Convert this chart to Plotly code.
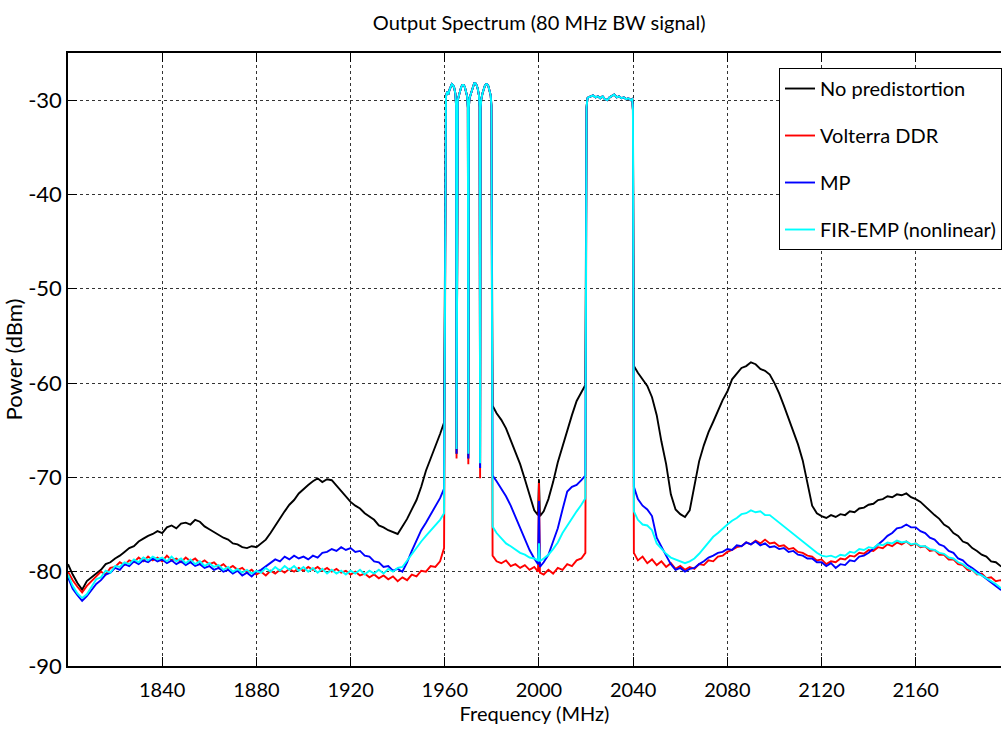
import plotly.graph_objects as go

# ---------------- frequency sampling (MHz) ----------------
low_f = [1800 + 2 * i for i in range(80)] + [1959.7]
mid_f = [1980.3] + [1982 + 2 * i for i in range(9)] + [1999.6, 2000.0, 2000.4] + [2002 + 2 * i for i in range(9)] + [2019.7]
up_f = [2040.3] + [2042 + 2 * i for i in range(79)]

carrier_starts = [1960, 1965, 1970, 1975]
carrier_offsets = [0.2, 0.5, 1.0, 1.5, 2.0, 2.5, 3.0, 3.5, 4.0, 4.5, 4.8]
c2_f = [2020.2, 2020.6] + [2021 + i for i in range(19)] + [2039.6, 2039.9]

x_ticks = [1840, 1880, 1920, 1960, 2000, 2040, 2080, 2120, 2160]
y_ticks = [-90, -80, -70, -60, -50, -40, -30]
y_tick_text = ["-90", "-80", "-70", "-60", "-50", "-40", "-30"]

# ---------------- in-band (shared) levels, dBm ----------------
carrier1 = [-30.6, -29.6, -29.1, -29.4, -28.9, -28.5, -28.3, -28.4, -28.7, -29.3, -30.6]
carrier2 = [-31.0, -30.0, -29.5, -29.0, -28.6, -28.4, -28.4, -28.6, -29.0, -29.6, -30.8]
carrier3 = [-30.8, -29.8, -29.4, -28.9, -28.5, -28.2, -28.2, -28.4, -28.8, -29.5, -30.7]
carrier4 = [-30.9, -29.9, -29.3, -28.8, -28.5, -28.3, -28.3, -28.5, -28.9, -29.5, -30.6]
block2_db = [-30.8, -29.8, -29.7, -29.6, -29.5, -29.7, -29.6, -29.8, -29.6, -29.9, -30.0, -29.7,
             -29.5, -29.4, -29.7, -29.6, -29.8, -29.7, -29.9, -29.8, -30.0, -29.9, -31.0]

# ---------------- No predistortion ----------------
black_low = [-79.2, -80.3, -81.2, -81.9, -81.0, -80.6, -80.1, -79.8, -79.2, -79.0, -78.6, -78.3, -77.9, -77.5,
             -77.3, -76.8, -76.5, -76.2, -76.0, -75.7, -75.9, -75.3, -75.1, -75.4, -74.9, -74.8, -75.0, -74.5,
             -74.7, -75.2, -75.5, -75.8, -76.1, -76.4, -76.6, -77.0, -77.1, -77.4, -77.5, -77.3, -77.4, -77.0,
             -76.6, -75.9, -75.1, -74.4, -73.6, -72.9, -72.4, -71.7, -71.2, -70.8, -70.4, -70.1, -70.5, -70.2,
             -70.3, -70.9, -71.4, -72.1, -72.6, -73.0, -73.3, -73.8, -74.2, -74.5, -75.1, -75.3, -75.6, -75.8,
             -76.0, -75.2, -74.4, -73.4, -72.4, -71.0, -69.3, -68.0, -66.8, -65.4, -64.2]
black_dips = [-67.5, -68.0, -69.0]
black_mid = [-62.4, -63.2, -63.9, -64.8, -66.0, -67.3, -68.6, -70.2, -71.9, -73.5, -74.0, -70.2, -74.1,
             -73.6, -72.3, -70.5, -68.4, -66.7, -64.9, -63.4, -61.9, -60.9, -60.2]
black_up = [-58.2, -58.9, -59.6, -60.3, -61.5, -63.4, -66.2, -68.6, -71.8, -73.4, -73.9, -74.2, -73.5, -70.9,
            -68.3, -66.6, -65.2, -64.1, -63.0, -61.8, -60.9, -59.6, -59.0, -58.4, -58.2, -57.8, -58.0, -58.5,
            -58.7, -59.1, -60.0, -61.1, -62.4, -63.7, -65.1, -66.5, -68.2, -70.6, -73.0, -73.8, -74.1, -74.3,
            -74.0, -74.2, -73.9, -74.0, -73.6, -73.7, -73.3, -73.2, -72.9, -72.8, -72.4, -72.3, -72.0, -72.1,
            -71.8, -71.9, -71.7, -72.1, -72.3, -72.6, -73.1, -73.5, -74.0, -74.4, -75.0, -75.3, -75.9, -76.2,
            -76.8, -77.0, -77.5, -77.8, -78.2, -78.4, -78.9, -79.0, -79.4, -79.6]

# ---------------- Volterra DDR ----------------
red_low = [-80.0, -80.9, -81.6, -82.2, -81.5, -81.0, -80.6, -80.0, -80.3, -79.6, -79.5, -79.0, -79.3, -78.8,
           -79.0, -78.5, -78.9, -78.4, -78.8, -78.5, -78.9, -78.3, -78.8, -78.6, -79.0, -78.5, -78.9, -78.6,
           -79.1, -78.8, -79.2, -79.0, -79.5, -79.2, -79.7, -79.4, -79.8, -79.6, -80.1, -79.8, -80.3, -80.0,
           -80.4, -79.9, -80.2, -79.8, -80.1, -79.7, -80.0, -79.6, -79.9, -79.5, -79.8, -79.5, -79.9, -79.6,
           -80.0, -79.7, -80.1, -79.9, -80.3, -80.0, -80.4, -80.2, -80.6, -80.3, -80.7, -80.4, -80.8, -80.5,
           -81.0, -80.6, -80.9, -80.3, -80.5, -79.9, -80.0, -79.4, -79.5, -78.9, -77.5]
red_dips = [-68.0, -68.6, -70.1]
red_mid = [-78.3, -78.9, -79.1, -78.8, -79.4, -79.2, -79.6, -79.3, -79.8, -79.5, -80.0, -70.6, -80.1,
           -80.3, -79.8, -80.2, -79.6, -79.8, -79.2, -79.4, -78.8, -78.6, -78.0]
red_up = [-78.0, -78.8, -78.4, -79.1, -78.7, -79.3, -78.9, -79.5, -79.1, -79.7, -79.4, -79.8, -79.5, -79.7,
          -79.2, -79.3, -78.8, -78.9, -78.4, -78.3, -77.9, -77.7, -77.4, -77.3, -76.9, -77.1, -76.7, -77.0,
          -76.6, -77.0, -76.9, -77.3, -77.2, -77.6, -77.5, -77.9, -78.0, -78.3, -78.4, -78.8, -78.7, -79.2,
          -78.9, -79.0, -78.6, -78.7, -78.3, -78.4, -78.0, -78.1, -77.7, -77.8, -77.4, -77.5, -77.1, -77.3,
          -76.9, -77.1, -76.8, -77.2, -77.0, -77.4, -77.3, -77.8, -77.7, -78.2, -78.2, -78.7, -78.7, -79.2,
          -79.3, -79.8, -79.8, -80.3, -80.2, -80.7, -80.6, -81.0, -80.9, -81.2]

# ---------------- MP ----------------
blue_low = [-80.6, -81.8, -82.5, -83.1, -82.6, -82.0, -81.3, -80.9, -80.3, -80.1, -79.6, -79.8, -79.2, -79.4,
            -78.9, -79.2, -78.8, -79.0, -78.6, -78.9, -78.7, -79.1, -78.8, -79.2, -78.9, -79.3, -79.0, -79.4,
            -79.2, -79.6, -79.4, -79.8, -79.6, -80.0, -79.8, -80.2, -79.9, -80.4, -80.1, -80.5, -80.0, -79.8,
            -79.4, -79.1, -78.7, -78.9, -78.4, -78.7, -78.3, -78.6, -78.4, -78.7, -78.3, -78.5, -78.0, -77.9,
            -77.6, -77.8, -77.4, -77.7, -77.5, -77.9, -77.8, -78.3, -78.4, -78.9, -79.0, -79.5, -79.4, -79.9,
            -79.7, -80.0, -79.0, -77.8, -76.6, -75.6, -74.8, -73.9, -73.0, -72.2, -71.2]
blue_dips = [-67.5, -68.0, -69.0]
blue_mid = [-69.8, -70.4, -71.2, -72.0, -73.0, -74.2, -75.3, -76.5, -77.7, -78.6, -79.2, -72.5, -79.5,
            -79.0, -78.2, -76.8, -75.4, -73.4, -71.5, -71.0, -70.8, -70.3, -69.8]
blue_up = [-71.0, -72.3, -73.0, -73.4, -74.1, -76.4, -77.4, -78.3, -79.2, -79.8, -79.6, -80.0, -79.7, -79.6,
           -79.2, -78.9, -78.5, -78.3, -78.0, -77.9, -77.6, -77.7, -77.2, -77.3, -76.9, -77.1, -76.8, -77.2,
           -77.0, -77.4, -77.3, -77.6, -77.5, -77.9, -77.8, -78.2, -78.3, -78.6, -78.6, -79.0, -79.0, -79.4,
           -79.1, -79.6, -79.2, -79.3, -78.8, -78.9, -78.4, -78.3, -78.0, -77.6, -77.2, -76.7, -76.2, -75.9,
           -75.4, -75.3, -75.0, -75.3, -75.3, -75.7, -75.9, -76.4, -76.6, -77.1, -77.3, -77.8, -78.0, -78.6,
           -78.8, -79.3, -79.6, -80.0, -80.4, -80.7, -81.2, -81.5, -81.9, -82.1]

# ---------------- FIR-EMP (nonlinear) ----------------
cyan_low = [-80.3, -81.5, -82.3, -82.8, -82.4, -81.6, -80.8, -80.6, -79.9, -80.1, -79.4, -79.5, -79.0, -79.2,
            -78.7, -79.0, -78.5, -78.8, -78.4, -78.7, -78.5, -78.9, -78.4, -78.9, -78.6, -79.1, -78.7, -79.2,
            -78.9, -79.4, -79.1, -79.5, -79.3, -79.8, -79.5, -80.0, -79.7, -80.1, -79.8, -80.2, -79.9, -80.1,
            -79.6, -80.0, -79.5, -79.9, -79.4, -79.8, -79.4, -79.9, -79.5, -80.0, -79.6, -80.1, -79.7, -80.2,
            -79.8, -80.2, -79.9, -80.3, -79.9, -80.2, -79.8, -80.3, -79.9, -80.2, -79.8, -80.2, -79.7, -80.0,
            -79.6, -79.5, -78.8, -78.2, -77.5, -76.8, -76.2, -75.6, -75.0, -74.5, -73.8]
cyan_dips = [-67.0, -67.5, -68.5]
cyan_mid = [-75.2, -75.9, -76.5, -77.0, -77.3, -77.7, -78.0, -78.2, -78.5, -78.6, -78.8, -77.0, -78.9,
            -78.6, -78.2, -77.6, -76.9, -75.9, -75.1, -74.3, -73.6, -72.9, -72.2]
cyan_up = [-73.6, -74.5, -75.0, -75.1, -75.6, -77.0, -77.6, -78.1, -78.5, -78.7, -78.9, -79.1, -78.9, -78.6,
           -78.1, -77.5, -76.8, -76.3, -75.9, -75.4, -75.0, -74.6, -74.3, -73.9, -73.8, -73.5, -73.7, -73.6,
           -74.0, -74.0, -74.4, -74.8, -75.3, -75.6, -76.1, -76.5, -76.9, -77.3, -77.6, -78.0, -78.3, -78.4,
           -78.3, -78.5, -78.2, -78.3, -77.9, -78.0, -77.6, -77.7, -77.4, -77.5, -77.1, -77.2, -76.9, -77.0,
           -76.7, -76.9, -76.8, -77.1, -77.0, -77.3, -77.3, -77.6, -77.7, -78.0, -78.1, -78.5, -78.6, -79.0,
           -79.2, -79.6, -79.8, -80.2, -80.4, -80.7, -81.0, -81.3, -81.7, -82.0]

series_names = ["No predistortion", "Volterra DDR", "MP", "FIR-EMP (nonlinear)"]
series_colors = ["#000000", "#ff0000", "#0000ff", "#00ffff"]


def block1(dips):
    fr, db = [], []
    carriers = [carrier1, carrier2, carrier3, carrier4]
    for k, c0 in enumerate(carrier_starts):
        fr += [c0 + o for o in carrier_offsets]
        db += carriers[k]
        if k < 3:
            fr.append(c0 + 5.0)
            db.append(dips[k])
    return fr, db


def build(low, dips, mid, up):
    f1, d1 = block1(dips)
    x = low_f + f1 + mid_f + c2_f + up_f
    y = low + d1 + mid + block2_db + up
    return x, y


data = [
    (black_low, black_dips, black_mid, black_up),
    (red_low, red_dips, red_mid, red_up),
    (blue_low, blue_dips, blue_mid, blue_up),
    (cyan_low, cyan_dips, cyan_mid, cyan_up),
]

fig = go.Figure()
for i, (name, color, parts) in enumerate(zip(series_names, series_colors, data)):
    x, y = build(*parts)
    fig.add_trace(go.Scatter(x=x, y=y, mode="lines", name=name, legendgroup=f"g{i}",
                             line=dict(color=color, width=1.9)))

font_family = "Lato, 'Open Sans', sans-serif"
fig.update_layout(
    width=1002, height=729,
    margin=dict(l=68, r=0, t=53, b=63),
    paper_bgcolor="white", plot_bgcolor="white",
    font=dict(family=font_family, color="black", size=20),
    title=dict(text="Output Spectrum (80 MHz BW signal)", x=0.505, xref="paper", xanchor="center",
               y=0.968, yref="container", yanchor="middle", font=dict(size=20, color="black")),
    showlegend=True,
    legend=dict(x=0.762, y=0.9755, xanchor="left", yanchor="top", bgcolor="white",
                bordercolor="black", borderwidth=1, font=dict(size=20, color="black"),
                tracegroupgap=18, itemwidth=30, traceorder="grouped"),
)
fig.update_xaxes(
    range=[1800, 2196.2], tickvals=x_ticks,
    showgrid=True, gridcolor="#333333", griddash="dot", gridwidth=1,
    showline=True, linecolor="black", linewidth=1.5, mirror="ticks",
    ticks="inside", ticklen=9, tickcolor="black", tickfont=dict(size=20),
    ticklabelstandoff=5,
    title=dict(text="Frequency (MHz)", font=dict(size=20), standoff=4), zeroline=False,
)
fig.update_yaxes(
    range=[-90, -25], tickvals=y_ticks, ticktext=y_tick_text,
    showgrid=True, gridcolor="#333333", griddash="dot", gridwidth=1,
    showline=True, linecolor="black", linewidth=1.5,
    ticks="inside", ticklen=9, tickcolor="black", tickfont=dict(size=22),
    title=dict(text="Power (dBm)", font=dict(size=22), standoff=2), zeroline=False,
)

fig.write_html("out.html")
